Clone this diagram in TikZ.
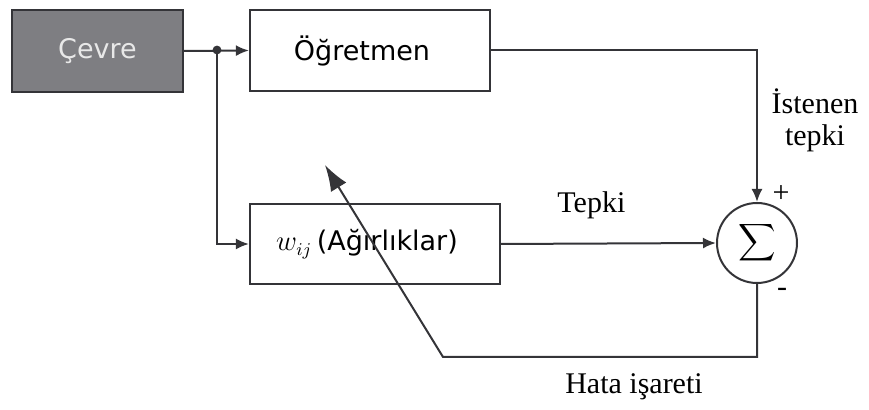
\documentclass[tikz,border=0pt]{standalone}
\usepackage{fontspec}
\setmainfont{Liberation Serif}
\newfontfamily\kutuyazi{DejaVu Sans}
\usetikzlibrary{arrows.meta}

\definecolor{cizgi}{RGB}{52,52,56}
\definecolor{koyu}{RGB}{126,126,130}
\definecolor{acik}{RGB}{232,232,232}

\tikzset{
  kutu/.style={draw=cizgi, line width=1.1pt, fill=white, inner sep=0pt,
    font=\kutuyazi\fontsize{13.5}{15}\selectfont},
  toplayici/.style={draw=cizgi, line width=1pt, circle, minimum size=40pt, inner sep=0pt},
  ok/.style={draw=cizgi, line width=1pt, -{Latex[length=6.5pt,width=5.5pt]}},
  etiket/.style={font=\fontsize{15}{16}\selectfont, inner sep=0pt}
}

\begin{document}
\begin{tikzpicture}[x=0.5pt,y=-0.5pt]
  \useasboundingbox (0,0) rectangle (869,410);

  % blocks
  \node[kutu, fill=koyu, text=acik, minimum width=85.5pt, minimum height=41pt] (cevre) at (97.5,51) {Çevre};
  \node[kutu, minimum width=120pt, minimum height=40.5pt] (ogretmen) at (370,50.5) {\hspace*{-8pt}Öğretmen};
  \node[kutu, minimum width=125pt, minimum height=40pt] (agirlik) at (375,244) {\hspace*{-8pt}$w_{ij}$\,(Ağırlıklar)};
  \node[toplayici] (toplam) at (757,243) {\scalebox{1.3}{$\displaystyle\sum$}};

  % branch point after the environment
  \coordinate (dal) at (217,50);
  \fill[cizgi] (dal) circle (2.2pt);

  \draw[ok] (cevre.east) -- (ogretmen.west);
  \draw[ok] (dal) |- (agirlik.west);
  \draw[ok] (ogretmen.east) -| (toplam.north);
  \draw[ok] (agirlik.east) -- (toplam.west) node[etiket, pos=0.42, above=12pt] (tepki) {Tepki};

  % error feedback back onto the weights
  \coordinate (kose) at (443,357);
  \coordinate (uc) at (325,165);
  \draw[draw=cizgi, line width=1pt, -{Latex[length=13pt,width=9pt]}] (toplam.south) |- (kose) -- (uc);

  \node[etiket, align=center] (istenen) at (815,120) {İstenen\\tepki};
  \node[etiket] (arti) at (781,194) {+};
  \node[etiket] (eksi) at (782,292) {-};
  \node[etiket] (hata) at (634,387) {Hata işareti};
\end{tikzpicture}
\end{document}
